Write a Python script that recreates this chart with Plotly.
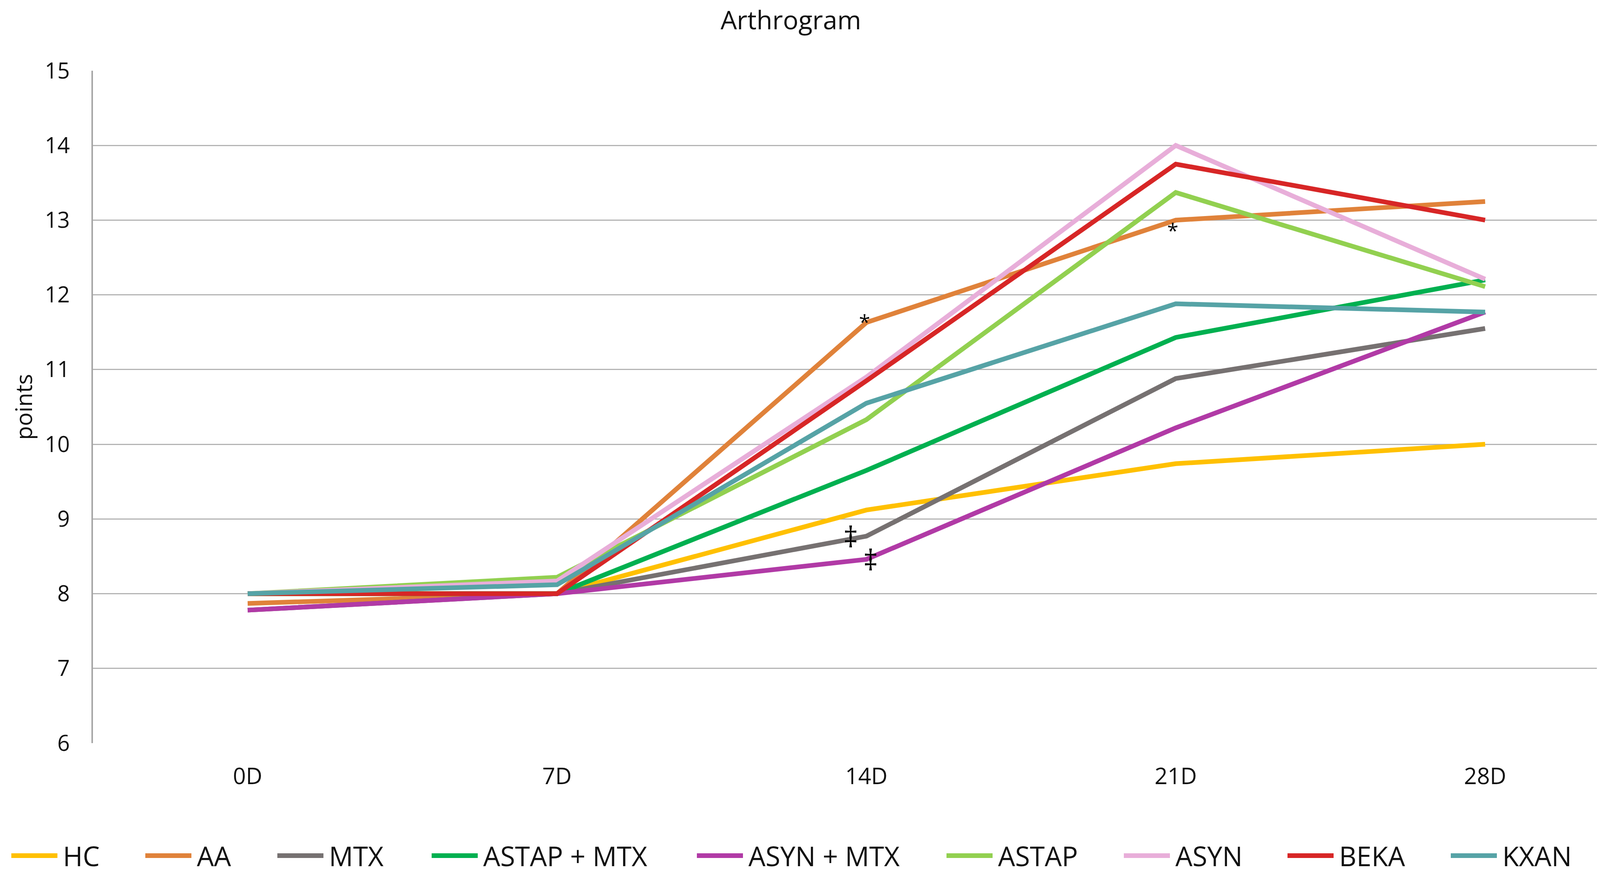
import plotly.graph_objects as go

# ---------------- data ----------------
days = ["0D", "7D", "14D", "21D", "28D"]

series_names = ["HC", "AA", "MTX", "ASTAP + MTX", "ASYN + MTX", "ASTAP", "ASYN", "BEKA", "KXAN"]

HC        = [8.00, 8.00, 9.12, 9.74, 10.00]
AA        = [7.87, 8.00, 11.63, 13.00, 13.25]
MTX       = [7.78, 8.00, 8.77, 10.88, 11.55]
ASTAP_MTX = [8.00, 8.00, 9.65, 11.43, 12.20]
ASYN_MTX  = [7.78, 8.00, 8.46, 10.22, 11.77]
ASTAP     = [8.00, 8.22, 10.33, 13.37, 12.11]
ASYN      = [8.00, 8.17, 10.90, 14.00, 12.21]
BEKA      = [8.00, 8.00, 10.85, 13.75, 13.00]
KXAN      = [8.00, 8.12, 10.55, 11.88, 11.77]

series_values = [HC, AA, MTX, ASTAP_MTX, ASYN_MTX, ASTAP, ASYN, BEKA, KXAN]

y_ticks = [6, 7, 8, 9, 10, 11, 12, 13, 14, 15]

# significance marks: (symbol, series index, day index)
sig_marks = [("*", 1, 2), ("*", 1, 3), ("‡", 2, 2), ("‡", 4, 2)]

# ---------------- style ----------------
colors = ["#FFC000", "#E0823A", "#767171", "#00B050", "#B13AA6",
          "#92D050", "#E8AED9", "#D72626", "#56A3A6"]
sig_shift = [(-4, 3), (-7, -25), (-40, 0), (11, 0)]   # pixel offsets
sig_size = {"*": 52, "‡": 74}

FONT = "Open Sans"
TXT = "#111111"

# plot area on screen (px) used to place the custom legend
PL, PR, PT, PB = 238, 4091, 181, 1902
legend_line_start = [29, 372, 710, 1105, 1784, 2423, 2877, 3296, 3714]
legend_line_len = 118
legend_text_gap = 12
legend_y = 2190


def px_x(v):
    return (v - PL) / (PR - PL)


def px_y(v):
    return (PB - v) / (PB - PT)


fig = go.Figure()
for name, vals, col in zip(series_names, series_values, colors):
    fig.add_trace(go.Scatter(
        x=days, y=vals, name=name, mode="lines",
        line=dict(color=col, width=12),
    ))

for (sym, si, di), (dx, dy) in zip(sig_marks, sig_shift):
    fig.add_annotation(
        x=days[di], y=series_values[si][di], text=sym, showarrow=False,
        xshift=dx, yshift=dy,
        font=dict(family=FONT, size=sig_size[sym], color="#000000"),
    )

# custom legend (long line samples like the original)
for name, col, x0 in zip(series_names, colors, legend_line_start):
    fig.add_shape(type="line", xref="paper", yref="paper",
                  x0=px_x(x0), x1=px_x(x0 + legend_line_len),
                  y0=px_y(legend_y), y1=px_y(legend_y),
                  line=dict(color=col, width=12))
    fig.add_annotation(xref="paper", yref="paper",
                       x=px_x(x0 + legend_line_len + legend_text_gap), y=px_y(legend_y),
                       xanchor="left", yanchor="middle", text=name, showarrow=False,
                       font=dict(family=FONT, size=69, color=TXT))

fig.update_layout(
    width=4124, height=2237,
    paper_bgcolor="white", plot_bgcolor="white",
    margin=dict(l=230, r=41, t=173, b=343),
    title=dict(text="Arthrogram", x=0.489, xref="container", xanchor="center",
               y=1 - 44 / 2237, yref="container", yanchor="middle",
               font=dict(family=FONT, size=66, color=TXT)),
    showlegend=False,
    font=dict(family=FONT, color=TXT),
)

fig.update_xaxes(
    type="category", range=[-0.5, 4.365],
    showgrid=False, showline=False, zeroline=False,
    tickfont=dict(family=FONT, size=58, color=TXT),
    ticks="", ticklabelstandoff=46,
)
fig.update_yaxes(
    range=[6, 15], tickvals=y_ticks,
    showgrid=True, gridcolor="#B4B4B4", gridwidth=3,
    showline=True, linecolor="#A6A6A6", linewidth=4,
    zeroline=False, ticks="", ticklabelstandoff=44,
    tickfont=dict(family=FONT, size=56, color=TXT),
    title=dict(text="points", standoff=14,
               font=dict(family=FONT, size=58, color=TXT)),
)

fig.write_html("out.html")
